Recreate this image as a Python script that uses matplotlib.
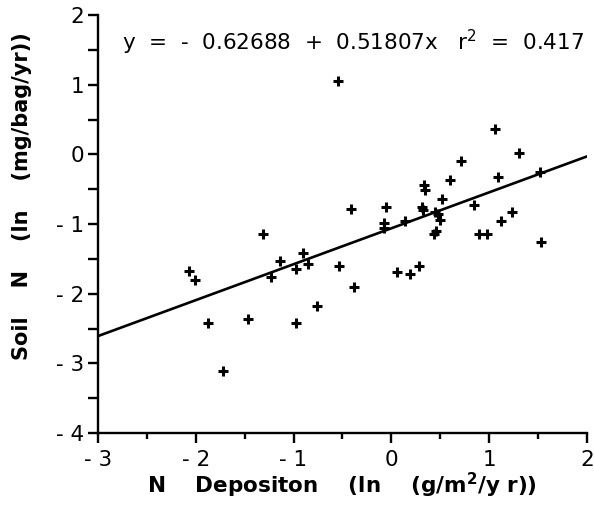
import matplotlib.pyplot as plt
from matplotlib.ticker import FuncFormatter, MultipleLocator

# ln N deposition (g/m2/yr) vs ln soil N (mg/bag/yr)
n_dep = [-2.07, -2.01, -1.88, -1.72, -1.47, -1.31, -1.23, -1.14, -0.98, -0.98,
         -0.90, -0.85, -0.76, -0.54, -0.55, -0.41, -0.38, -0.05, -0.08, -0.08,
         0.06, 0.14, 0.19, 0.28, 0.31, 0.32, 0.33, 0.34, 0.45, 0.48,
         0.50, 0.46, 0.44, 0.52, 0.60, 0.71, 0.85, 0.90, 0.98, 1.06,
         1.09, 1.12, 1.23, 1.31, 1.52, 1.53]
soil_n = [-1.68, -1.80, -2.42, -3.11, -2.36, -1.14, -1.76, -1.53, -1.64, -2.42,
          -1.42, -1.57, -2.18, -1.60, 1.06, -0.79, -1.91, -0.75, -0.99, -1.06,
          -1.69, -0.95, -1.72, -1.60, -0.76, -0.80, -0.44, -0.51, -0.82, -0.85,
          -0.94, -1.10, -1.14, -0.64, -0.37, -0.10, -0.72, -1.14, -1.14, 0.37,
          -0.33, -0.95, -0.83, 0.02, -0.25, -1.26]

# regression line as drawn
fit_x = [-3, 2]
fit_intercept = -1.06
fit_slope = 0.516
fit_y = [fit_intercept + fit_slope * v for v in fit_x]

eq_text = r'y  =  -  0.62688  +  0.51807x   r$^2$  =  0.417'

plt.rcParams['font.family'] = ['DejaVu Sans']
plt.rcParams['mathtext.default'] = 'regular'

fig = plt.figure(figsize=(5.94, 5.17), dpi=100)
ax = fig.add_axes([0.165, 0.1625, 0.823, 0.808])

ax.plot(n_dep, soil_n, linestyle='none', marker='+', color='black',
        markersize=7.5, markeredgewidth=2.2)
ax.plot(fit_x, fit_y, color='black', linewidth=1.9)

ax.set_xlim(-3, 2)
ax.set_ylim(-4, 2)

for spine in ('top', 'right'):
    ax.spines[spine].set_visible(False)
for spine in ('left', 'bottom'):
    ax.spines[spine].set_linewidth(1.7)

ax.xaxis.set_major_locator(MultipleLocator(1))
ax.xaxis.set_minor_locator(MultipleLocator(0.5))
ax.yaxis.set_major_locator(MultipleLocator(1))
ax.yaxis.set_minor_locator(MultipleLocator(0.5))


def fmt(v, _):
    v = int(round(v))
    return f'- {abs(v)}' if v < 0 else f'{v}'


ax.xaxis.set_major_formatter(FuncFormatter(fmt))
ax.yaxis.set_major_formatter(FuncFormatter(fmt))
ax.tick_params(which='major', length=7, width=1.7, labelsize=15.5, pad=3)
ax.tick_params(axis='x', which='major', pad=5)
ax.tick_params(axis='x', which='minor', length=4.5, width=1.7)
ax.tick_params(axis='y', which='minor', length=7, width=1.7)

ax.text(0.05, 0.935, eq_text, transform=ax.transAxes, fontsize=15.5,
        ha='left', va='center')

fig.text(342 / 594, 1 - 485 / 517, r'N    Depositon    (ln    (g/m$^2$/y r))',
         ha='center', va='center', fontsize=15.5, fontweight='bold')
fig.text(22 / 594, 1 - 196 / 517, 'Soil    N    (ln    (mg/bag/yr))',
         ha='center', va='center', rotation=90, fontsize=15, fontweight='bold')

plt.savefig('out.png', dpi=100)
